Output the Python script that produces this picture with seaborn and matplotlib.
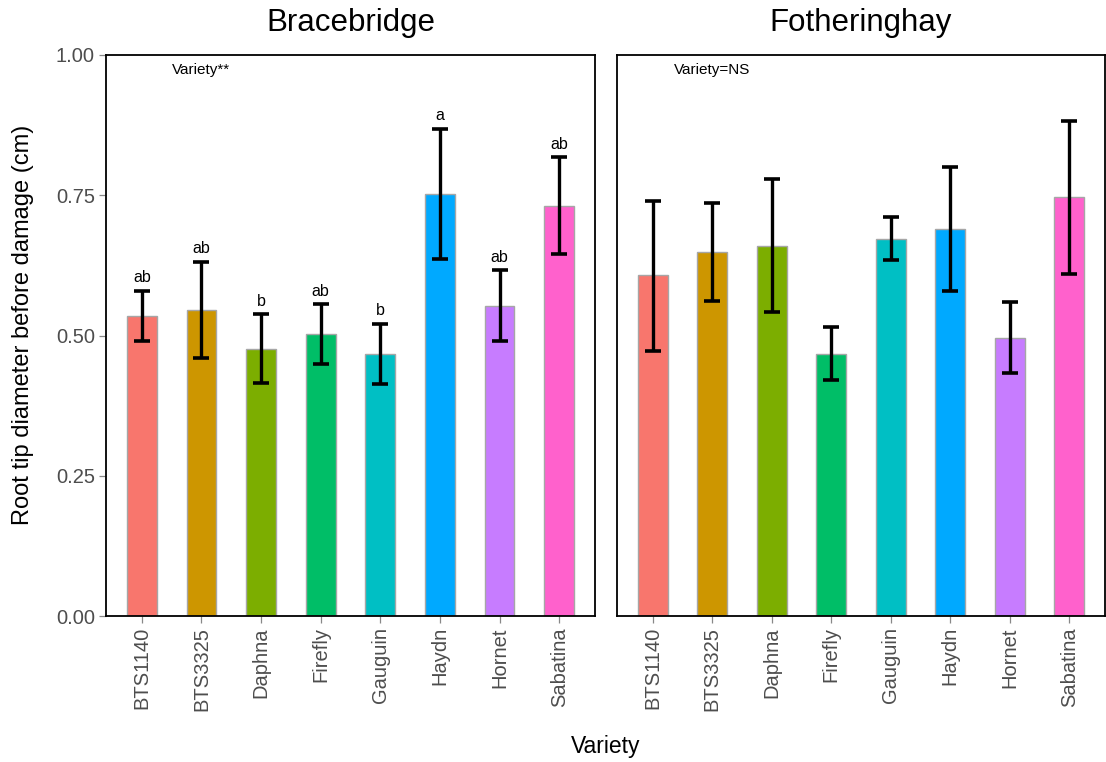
import matplotlib
matplotlib.use("Agg")
import matplotlib.pyplot as plt
import numpy as np
import pandas as pd
import seaborn as sns

# Varieties and site-level summaries (mean with lower/upper error limits)
varieties = ["BTS1140", "BTS3325", "Daphna", "Firefly", "Gauguin", "Haydn", "Hornet", "Sabatina"]
sites = ["Bracebridge", "Fotheringhay"]

brace_mean = [0.535, 0.545, 0.476, 0.502, 0.467, 0.752, 0.552, 0.731]
brace_low = [0.491, 0.460, 0.416, 0.449, 0.414, 0.636, 0.490, 0.645]
brace_high = [0.580, 0.631, 0.538, 0.556, 0.521, 0.868, 0.616, 0.818]
brace_letters = ["ab", "ab", "b", "ab", "b", "a", "ab", "ab"]

foth_mean = [0.607, 0.649, 0.660, 0.467, 0.672, 0.690, 0.496, 0.746]
foth_low = [0.473, 0.562, 0.541, 0.421, 0.634, 0.580, 0.433, 0.610]
foth_high = [0.740, 0.737, 0.779, 0.515, 0.711, 0.800, 0.560, 0.883]
foth_letters = None

site_notes = ["Variety**", "Variety=NS"]

palette = ["#F8766D", "#CD9600", "#7CAE00", "#00BE67",
           "#00BFC4", "#00A9FF", "#C77CFF", "#FF61CC"]

sns.set_theme(style="white")
plt.rcParams["font.family"] = ["Liberation Sans", "DejaVu Sans"]

fig = plt.figure(figsize=(11.06, 7.62), dpi=100)
W, H = 1106, 762
bottom = 1 - 616 / H
height = (616 - 55) / H
ax1 = fig.add_axes([106 / W, bottom, (595 - 106) / W, height])
ax2 = fig.add_axes([617 / W, bottom, (1105 - 617) / W, height])

panels = [
    (ax1, brace_mean, brace_low, brace_high, brace_letters),
    (ax2, foth_mean, foth_low, foth_high, foth_letters),
]

tick_grey = "#4D4D4D"

for i, (ax, mean, low, high, letters) in enumerate(panels):
    df = pd.DataFrame({"Variety": varieties, "diameter": mean})
    sns.barplot(data=df, x="Variety", y="diameter", hue="Variety",
                palette=palette, order=varieties, hue_order=varieties,
                width=0.5, errorbar=None, legend=False, saturation=1,
                edgecolor="#A6A6A6", linewidth=1.0, ax=ax)
    mean_a = np.asarray(mean)
    yerr = np.vstack([mean_a - np.asarray(low), np.asarray(high) - mean_a])
    xs = np.arange(len(varieties))
    ax.errorbar(xs, mean_a, yerr=yerr, fmt="none", ecolor="black",
                elinewidth=2.4, capsize=5.5, capthick=2.6, zorder=5)
    if letters is not None:
        for x, h, lab in zip(xs, high, letters):
            ax.annotate(lab, (x, h), xytext=(0, 4), textcoords="offset points",
                        ha="center", va="bottom", fontsize=11.5, color="black")
    ax.text(1, 0.973, site_notes[i], ha="center", va="center",
            fontsize=11, color="black")

    ax.set_xlim(-0.6, len(varieties) - 0.4)
    ax.set_ylim(0, 1.0)
    ax.set_title(sites[i], fontsize=22.5, color="black", pad=17)
    ax.set_xlabel("")
    ax.set_ylabel("")
    for s in ax.spines.values():
        s.set_color("black")
        s.set_linewidth(1.3)
    ax.tick_params(axis="x", rotation=90, labelsize=14.5, labelcolor=tick_grey,
                   color="#888888", length=5, width=0.9, bottom=True, pad=3)
    if i == 0:
        ax.set_yticks([0, 0.25, 0.5, 0.75, 1.0])
        ax.set_yticklabels(["0.00", "0.25", "0.50", "0.75", "1.00"])
        ax.tick_params(axis="y", labelsize=14.5, labelcolor=tick_grey,
                       color="#888888", length=5, width=0.9, left=True, pad=3)
    else:
        ax.set_yticks([0, 0.25, 0.5, 0.75, 1.0])
        ax.tick_params(axis="y", left=False, labelleft=False)
    ax.grid(False)

fig.text(23 / W, 1 - 325 / H, "Root tip diameter before damage (cm)",
         rotation=90, ha="center", va="center", fontsize=17, color="black")
fig.text(606 / W, 1 - 746 / H, "Variety", ha="center", va="center",
         fontsize=16.5, color="black")

fig.savefig("out.png", dpi=100, facecolor="white")
